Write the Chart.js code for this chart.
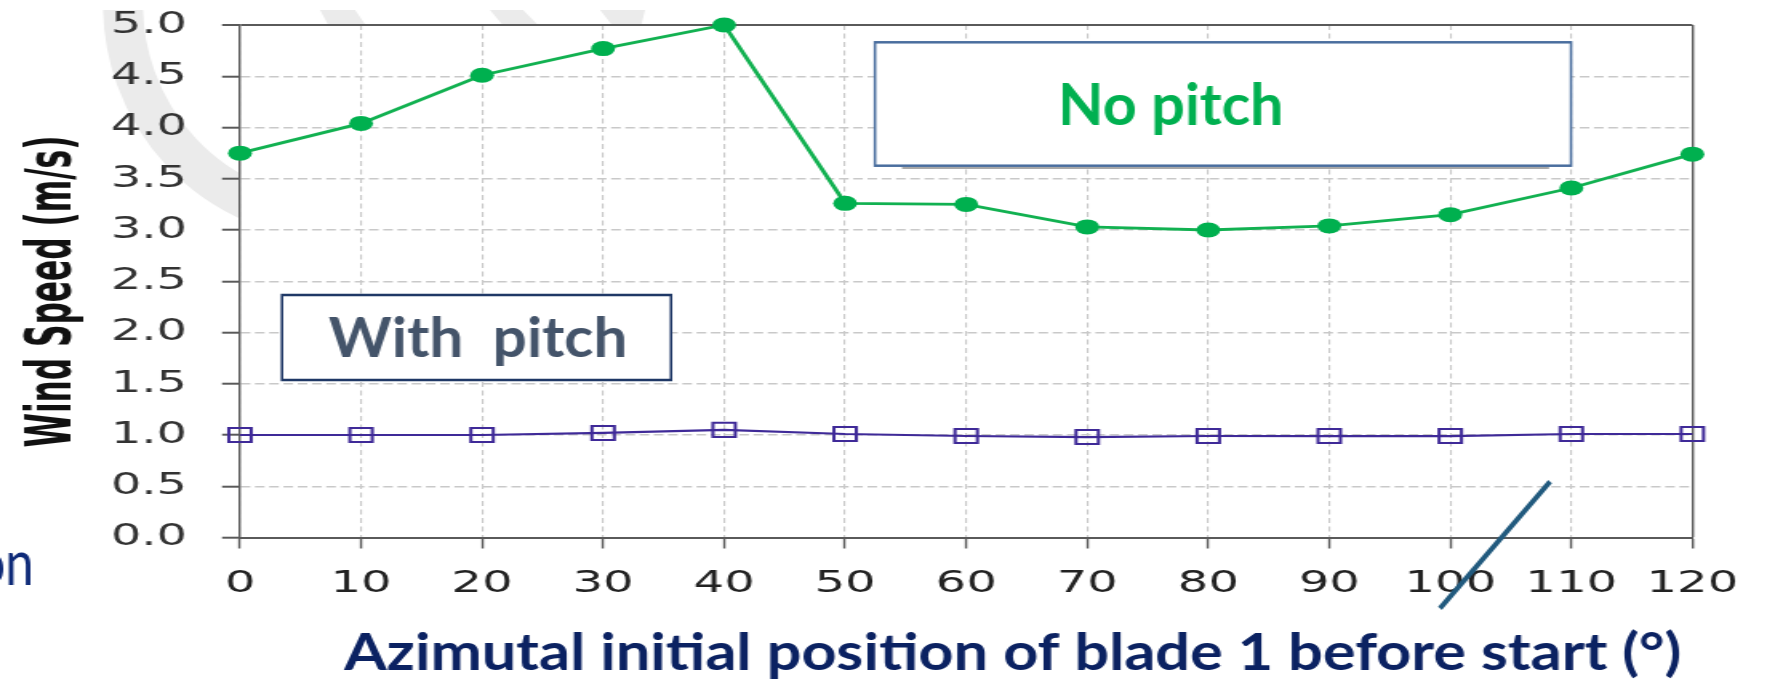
<!DOCTYPE html>
<html>
<head>
<meta charset="utf-8">
<script src="https://cdn.jsdelivr.net/npm/chart.js@4.4.1/dist/chart.umd.min.js"></script>
<style>
  html, body { margin: 0; padding: 0; background: #fff; overflow: hidden; }
  canvas { display: block; }
</style>
</head>
<body>
<canvas id="chart" width="1104" height="692" style="width:1767px;height:692px"></canvas>
<script>
// azimuth of blade 1 before start (degrees)
const azimuth = [0, 10, 20, 30, 40, 50, 60, 70, 80, 90, 100, 110, 120];
// start-up wind speed (m/s)
const noPitchSpeed   = [3.75, 4.04, 4.51, 4.77, 5.0, 3.26, 3.25, 3.03, 3.0, 3.04, 3.15, 3.41, 3.74];
const withPitchSpeed = [1.0, 1.0, 1.0, 1.02, 1.05, 1.01, 0.99, 0.98, 0.99, 0.99, 0.99, 1.01, 1.01];
const seriesNames = ['No pitch', 'With  pitch'];
const speedRange = [0, 5];
const azimuthRange = [0, 120];
const xTitle = 'Azimutal initial position of blade 1 before start (°)';
const yTitle = 'Wind Speed (m/s)';

// the chart canvas is shown stretched sideways; slide text is drawn unstretched
const STRETCH = 1767 / 1104;
const AXIS = '#5a5a5a';
const GRID = '#c9c9c9';
const SLIDE_FONT = "Lato, 'Noto Sans', sans-serif";
const TICK_FONT = { family: "'DejaVu Sans', Verdana, sans-serif", size: 30 };

// draws text so its ink spans `length` along x and its reference glyph is `height` tall
function fitText(ctx, text, weight, family, color, length, height, ref) {
  ctx.font = `${weight} 100px ${family}`;
  const size = 100 * height / ctx.measureText(ref).actualBoundingBoxAscent;
  ctx.font = `${weight} ${size}px ${family}`;
  const m = ctx.measureText(text);
  ctx.scale(length / (m.actualBoundingBoxLeft + m.actualBoundingBoxRight), 1);
  ctx.fillStyle = color;
  ctx.textAlign = 'left';
  ctx.textBaseline = 'alphabetic';
  ctx.fillText(text, m.actualBoundingBoxLeft, 0);
}

function screenPx(ctx, draw) {
  ctx.save();
  ctx.scale(1 / STRETCH, 1);
  draw();
  ctx.restore();
}

function labelBox(ctx, x0, y0, x1, y1, stroke) {
  ctx.fillStyle = '#fff';
  ctx.fillRect(x0, y0, x1 - x0, y1 - y0);
  ctx.strokeStyle = stroke;
  ctx.lineWidth = 2.5;
  ctx.strokeRect(x0, y0, x1 - x0, y1 - y0);
}

const slide = {
  id: 'slide',
  beforeDraw(chart) {
    const {ctx, chartArea: a} = chart;
    ctx.save();
    ctx.fillStyle = '#fff';
    ctx.fillRect(0, 0, chart.width, chart.height);
    screenPx(ctx, () => {
      // faint logo arcs behind the plot
      ctx.beginPath();
      ctx.rect(0, 10, 1767, 692);
      ctx.clip();
      ctx.strokeStyle = '#ebebeb';
      ctx.lineWidth = 40;
      ctx.beginPath();
      ctx.arc(338, 5, 215, 1.6, 3.3);
      ctx.stroke();
      ctx.fillStyle = '#ebebeb';
      [[320, 355, 331, 369], [490, 523, 507, 543], [600, 645, 616, 640]].forEach(([a0, a1, b0, b1]) => {
        ctx.beginPath();
        ctx.moveTo(a0, 10); ctx.lineTo(a1, 10); ctx.lineTo(b1, 30); ctx.lineTo(b0, 30);
        ctx.closePath();
        ctx.fill();
      });
    });
    ctx.fillStyle = '#fff';
    ctx.fillRect(a.left, a.top, a.right - a.left, a.bottom - a.top);
    ctx.restore();
  },
  afterDraw(chart) {
    const ctx = chart.ctx;
    screenPx(ctx, () => {
      // series labels
      ctx.strokeStyle = '#a8a8a8';
      ctx.lineWidth = 2;
      ctx.beginPath(); ctx.moveTo(902, 168); ctx.lineTo(1549, 168); ctx.stroke();
      labelBox(ctx, 875, 42.3, 1571, 165.7, '#4a6e9e');
      labelBox(ctx, 282, 295, 671, 380, '#1f3866');

      ctx.save(); ctx.translate(1062, 125);
      fitText(ctx, seriesNames[0], 'bold', SLIDE_FONT, '#00b050', 219, 42, 'N');
      ctx.restore();
      ctx.save(); ctx.translate(328.7, 357);
      fitText(ctx, seriesNames[1], 'bold', SLIDE_FONT, '#44546a', 296, 40, 'W');
      ctx.restore();

      // axis titles
      ctx.save(); ctx.translate(343, 670);
      fitText(ctx, xTitle, 'bold', SLIDE_FONT, '#0b2262', 1337, 37, 'A');
      ctx.restore();
      ctx.save(); ctx.translate(70, 447); ctx.rotate(-Math.PI / 2);
      fitText(ctx, yTitle, 'bold', "'Liberation Sans Narrow', 'DejaVu Sans Condensed', sans-serif", '#111', 309, 45, 'W');
      ctx.restore();

      // tail of a word from the slide text on the left
      ctx.save(); ctx.translate(-22, 585);
      fitText(ctx, 'on', 'normal', SLIDE_FONT, '#0e2a78', 53, 32, 'n');
      ctx.restore();

      // pointer stroke
      ctx.strokeStyle = '#215a7e';
      ctx.lineWidth = 5;
      ctx.beginPath(); ctx.moveTo(1550, 481.7); ctx.lineTo(1440, 608.3); ctx.stroke();
    });
  }
};

new Chart(document.getElementById('chart'), {
  type: 'line',
  data: {
    datasets: [
      {
        label: seriesNames[0],
        data: azimuth.map((a, i) => ({x: a, y: noPitchSpeed[i]})),
        borderColor: '#12b151',
        borderWidth: 2.8,
        pointStyle: 'circle',
        pointRadius: 7.5,
        pointBorderWidth: 0,
        pointBackgroundColor: '#00b04f',
        clip: false
      },
      {
        label: seriesNames[1],
        data: azimuth.map((a, i) => ({x: a, y: withPitchSpeed[i]})),
        borderColor: '#3f2a98',
        borderWidth: 2.2,
        pointStyle: 'rect',
        pointRadius: 9.9,
        pointBorderWidth: 2,
        pointBorderColor: '#3f2a98',
        pointBackgroundColor: 'rgba(0,0,0,0)',
        clip: false
      }
    ]
  },
  options: {
    responsive: false,
    animation: false,
    devicePixelRatio: 1,
    layout: { padding: { top: 25, right: 43.1, left: 0, bottom: 0 } },
    plugins: { legend: { display: false }, tooltip: { enabled: false } },
    scales: {
      x: {
        type: 'linear',
        min: azimuthRange[0],
        max: azimuthRange[1],
        afterFit: (s) => { s.height = 154.5; },
        grid: {
          color: (c) => c.tick && c.tick.value === azimuthRange[1] ? AXIS : GRID,
          lineWidth: (c) => c.tick && c.tick.value === azimuthRange[1] ? 1.4 : 1.1,
          tickLength: 11,
          tickColor: AXIS,
          tickWidth: 1.4
        },
        border: {
          color: AXIS,
          width: 2,
          dash: (c) => c.tick && c.tick.value === azimuthRange[1] ? [] : [5, 3.5]
        },
        ticks: {
          stepSize: 10,
          autoSkip: false,
          maxRotation: 0,
          padding: 18,
          color: '#222',
          font: TICK_FONT
        }
      },
      y: {
        min: speedRange[0],
        max: speedRange[1],
        // fixed width, and no extra room above/below for the end labels
        afterFit: (s) => { s.width = 149.95; s.paddingTop = 0; s.paddingBottom = 0; },
        grid: {
          color: (c) => c.tick && c.tick.value === speedRange[1] ? AXIS : GRID,
          lineWidth: (c) => c.tick && c.tick.value === speedRange[1] ? 2 : 1.4,
          tickLength: 11.2,
          tickColor: AXIS,
          tickWidth: 2
        },
        border: {
          color: AXIS,
          width: 1.4,
          dash: (c) => c.tick && c.tick.value === speedRange[1] ? [] : [6, 2.9]
        },
        ticks: {
          stepSize: 0.5,
          padding: 21.9,
          color: '#333',
          font: TICK_FONT,
          callback: (v) => v.toFixed(1)
        }
      }
    }
  },
  plugins: [slide]
});
</script>
</body>
</html>
